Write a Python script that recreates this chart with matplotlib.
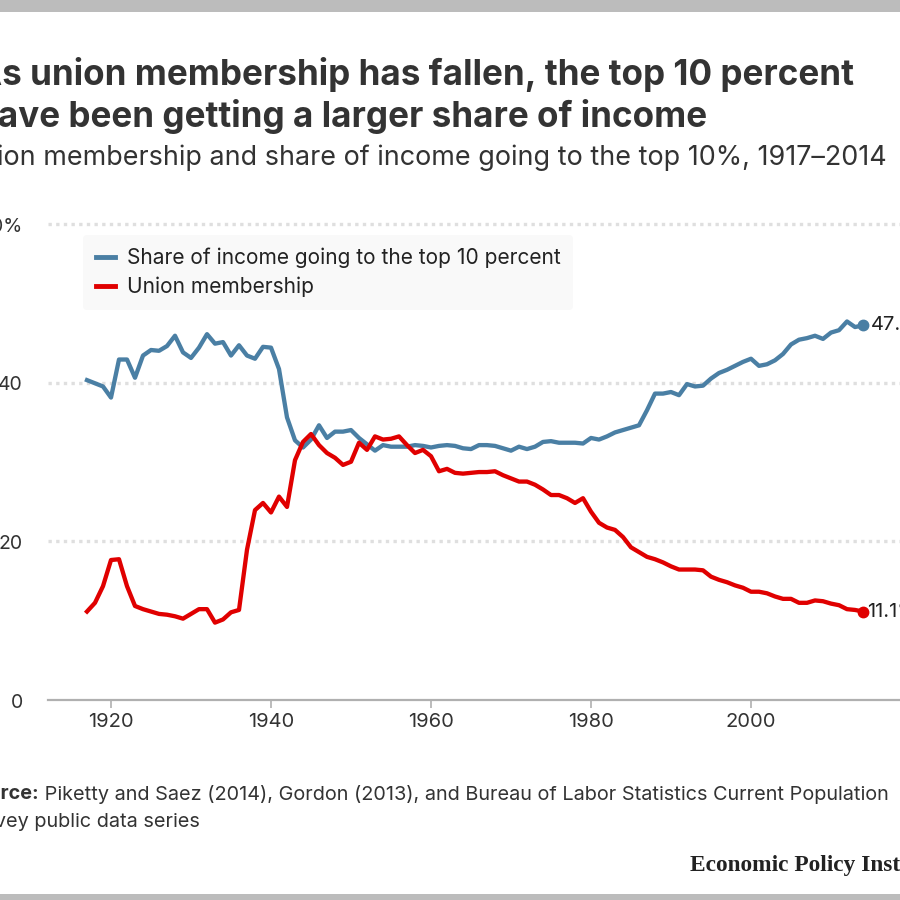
import matplotlib
matplotlib.use("Agg")
import matplotlib.pyplot as plt
from matplotlib.patches import Rectangle

years = list(range(1917, 2015))

top10_share = [
    40.3, 39.9, 39.5, 38.1, 42.9, 42.9, 40.6, 43.4, 44.1, 44.0,
    44.6, 45.9, 43.8, 43.1, 44.4, 46.1, 44.9, 45.1, 43.4, 44.7,
    43.4, 43.0, 44.5, 44.4, 41.7, 35.6, 32.7, 31.8, 32.8, 34.6,
    33.0, 33.8, 33.8, 34.0, 33.0, 32.2, 31.4, 32.1, 31.9, 31.9,
    31.9, 32.1, 32.0, 31.8, 32.0, 32.1, 32.0, 31.7, 31.6, 32.1,
    32.1, 32.0, 31.7, 31.4, 31.9, 31.6, 31.9, 32.5, 32.6, 32.4,
    32.4, 32.4, 32.3, 33.0, 32.8, 33.2, 33.7, 34.0, 34.3, 34.6,
    36.5, 38.6, 38.6, 38.8, 38.4, 39.8, 39.5, 39.6, 40.5, 41.2,
    41.6, 42.1, 42.6, 43.0, 42.1, 42.3, 42.8, 43.6, 44.8, 45.4,
    45.6, 45.9, 45.5, 46.3, 46.6, 47.7, 47.0, 47.2,
]

union_membership = [
    11.1, 12.2, 14.3, 17.6, 17.7, 14.3, 11.8, 11.4, 11.1, 10.8,
    10.7, 10.5, 10.2, 10.8, 11.4, 11.4, 9.7, 10.1, 11.0, 11.3,
    18.9, 23.9, 24.8, 23.6, 25.6, 24.3, 30.2, 32.5, 33.5, 32.1,
    31.1, 30.5, 29.6, 30.0, 32.4, 31.5, 33.2, 32.8, 32.9, 33.2,
    32.1, 31.1, 31.5, 30.7, 28.8, 29.1, 28.6, 28.5, 28.6, 28.7,
    28.7, 28.8, 28.3, 27.9, 27.5, 27.5, 27.1, 26.5, 25.8, 25.8,
    25.4, 24.8, 25.4, 23.7, 22.3, 21.7, 21.4, 20.5, 19.2, 18.6,
    18.0, 17.7, 17.3, 16.8, 16.4, 16.4, 16.4, 16.3, 15.5, 15.1,
    14.8, 14.4, 14.1, 13.6, 13.6, 13.4, 13.0, 12.7, 12.7, 12.2,
    12.2, 12.5, 12.4, 12.1, 11.9, 11.4, 11.3, 11.1,
]

x_ticks = [1920, 1940, 1960, 1980, 2000]
y_ticks = [0, 20, 40, 60]
y_tick_labels = ["0", "20", "40", "60%"]
end_labels = ["47.2%", "11.1%"]

series_names = ["Share of income going to the top 10 percent", "Union membership"]
title_lines = ["As union membership has fallen, the top 10 percent",
               "have been getting a larger share of income"]
subtitle = "Union membership and share of income going to the top 10%, 1917\u20132014"
source_bold = "Source:"
source_rest = (" Piketty and Saez (2014), Gordon (2013), and Bureau of Labor Statistics Current Population",
               "Survey public data series")
brand = "Economic Policy Institute"

BLUE = "#4a7fa4"
RED = "#e00000"
TXT = "#333333"

plt.rcParams["font.family"] = ["Inter", "DejaVu Sans"]

W = H = 900
fig = plt.figure(figsize=(9, 9), dpi=100)
fig.patch.set_facecolor("white")
renderer = fig.canvas.get_renderer()


def fx(px):
    return px / W


def fy(py):
    return 1 - py / H


def width_px(t):
    return t.get_window_extent(renderer).width


def fitted_size(s, target_w, **kw):
    t = fig.text(0, 0, s, fontsize=20, **kw)
    w = width_px(t)
    t.remove()
    return 20 * target_w / w


# top & bottom gray bars
fig.patches.append(Rectangle((0, fy(12)), 1, 12 / H, transform=fig.transFigure,
                             facecolor="#bcbcbc", edgecolor="none", zorder=0))
fig.patches.append(Rectangle((0, 0), 1, 6 / H, transform=fig.transFigure,
                             facecolor="#bcbcbc", edgecolor="none", zorder=0))

# titles
t_size = fitted_size(title_lines[0], 855 + 24, fontweight="bold")
fig.text(fx(-24), fy(74), title_lines[0], fontsize=t_size, fontweight="bold",
         color=TXT, va="center", ha="left")
fig.text(fx(-24), fy(116), title_lines[1], fontsize=t_size, fontweight="bold",
         color=TXT, va="center", ha="left")
sub_left = -39
s_size = fitted_size(subtitle, 885 - sub_left)
fig.text(fx(sub_left), fy(158), subtitle, fontsize=s_size, color=TXT,
         va="center", ha="left")

# axes
ax_left, ax_right = 48, 900
ax_bottom_px, ax_top_px = 699.5, 224
ax = fig.add_axes([fx(ax_left), fy(ax_bottom_px), (ax_right - ax_left) / W,
                   (ax_bottom_px - ax_top_px) / H])
x0 = 1920 + (ax_left - 111) / 8.0
x1 = 1920 + (ax_right - 111) / 8.0
ax.set_xlim(x0, x1)
ax.set_ylim(0, 60)
ax.set_facecolor("none")
for s in ["top", "right", "left"]:
    ax.spines[s].set_visible(False)
ax.spines["bottom"].set_color("#b0b0b0")
ax.spines["bottom"].set_linewidth(1.6)

for yv in y_ticks[1:]:
    ax.axhline(yv, color="#dfdfdf", linewidth=2.4, linestyle=(0, (1.0, 1.3)),
               zorder=1, clip_on=False)

ax.set_xticks(x_ticks)
ax.set_xticklabels([str(v) for v in x_ticks], fontsize=14.5, color=TXT)
ax.tick_params(axis="x", length=6, width=1.2, color="#b0b0b0", pad=4)
ax.set_yticks([])

for yv, lab in zip(y_ticks, y_tick_labels):
    ypx = ax_bottom_px - (ax_bottom_px - ax_top_px) * yv / 60 + 3
    fig.text(fx(23), fy(ypx), lab, fontsize=14, color=TXT, ha="right", va="center")

l1, = ax.plot(years, top10_share, color=BLUE, linewidth=3.1, solid_joinstyle="round",
              label=series_names[0], zorder=3, clip_on=False)
l2, = ax.plot(years, union_membership, color=RED, linewidth=3.1, solid_joinstyle="round",
              label=series_names[1], zorder=3, clip_on=False)

ax.plot([years[-1]], [top10_share[-1]], "o", color=BLUE, markersize=7.5, zorder=4, clip_on=False)
ax.plot([years[-1]], [union_membership[-1]], "o", color=RED, markersize=7.5, zorder=4, clip_on=False)
ax.annotate(end_labels[0], (years[-1], top10_share[-1]), xytext=(6, 0),
            textcoords="offset points", fontsize=14.5, color="#222222", va="center",
            annotation_clip=False)
ax.annotate(end_labels[1], (years[-1], union_membership[-1]), xytext=(3, 0),
            textcoords="offset points", fontsize=14.5, color="#222222", va="center",
            annotation_clip=False)

leg_size = fitted_size(series_names[0], 434)
leg = ax.legend(handles=[l1, l2], loc="upper left",
                bbox_to_anchor=(fx(83), fy(235)), bbox_transform=fig.transFigure,
                fontsize=leg_size, frameon=True, handlelength=0.95, handletextpad=0.55,
                labelspacing=0.42, borderpad=0.6, borderaxespad=0, fancybox=True)
leg.get_frame().set_facecolor("#f9f9f9")
leg.get_frame().set_edgecolor("none")
leg.get_frame().set_alpha(1)
for t in leg.get_texts():
    t.set_color("#222222")
for h in leg.get_lines():
    h.set_linewidth(3.5)

# source
src_b = fig.text(0, 0, source_bold, fontsize=20, fontweight="bold")
src_r = fig.text(0, 0, source_rest[0], fontsize=20)
total_w = width_px(src_b) + width_px(src_r)
src_b.remove()
src_r.remove()
src_left = -37
src_size = 20 * (890 - src_left) / total_w
sb = fig.text(fx(src_left), fy(794), source_bold, fontsize=src_size, fontweight="bold",
              color=TXT, va="center", ha="left")
bb = sb.get_window_extent(renderer)
fig.text(bb.x1 / W, fy(794), source_rest[0], fontsize=src_size, color=TXT,
         va="center", ha="left")
fig.text(fx(src_left), fy(822), source_rest[1], fontsize=src_size, color=TXT,
         va="center", ha="left")

brand_size = fitted_size("Economic Policy Inst", 210, fontweight="bold",
                         family=["Liberation Serif", "DejaVu Serif"])
fig.text(fx(690), fy(866), brand, fontsize=brand_size, fontweight="bold",
         family=["Liberation Serif", "DejaVu Serif"], color="#222222",
         va="center", ha="left")

fig.savefig("out.png", dpi=100)
